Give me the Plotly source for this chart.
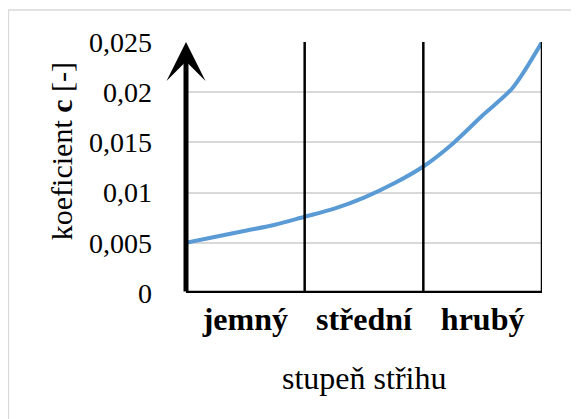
import plotly.graph_objects as go

# Data
x_pos = [0, 0.25, 0.5, 0.75, 1.0, 1.25, 1.5, 1.75, 2.0, 2.25, 2.5, 2.75, 3.0]
c_values = [0.0050, 0.0056, 0.0062, 0.0068, 0.0076, 0.0084, 0.0095, 0.0109,
            0.0126, 0.0149, 0.0177, 0.0204, 0.0250]
categories = ["jemný", "střední", "hrubý"]
category_centers = [0.5, 1.5, 2.5]
category_bounds = [1, 2, 3]
y_ticks = [0, 0.005, 0.01, 0.015, 0.02, 0.025]
y_ticklabels = ["0", "0,005", "0,01", "0,015", "0,02", "0,025"]

FONT = "Liberation Serif"
OFF = 8  # page body margin compensation

fig = go.Figure()
fig.add_trace(go.Scatter(
    x=x_pos, y=c_values, mode="lines",
    line=dict(color="#5B9BD5", width=4, shape="spline", smoothing=0.8),
    showlegend=False, hoverinfo="skip",
))

shapes = []
for b in category_bounds:
    shapes.append(dict(type="line", xref="x", yref="y", x0=b, x1=b, y0=0, y1=y_ticks[-1],
                       line=dict(color="black", width=2.5), layer="above"))
# bottom axis line
shapes.append(dict(type="line", xref="x", yref="y", x0=0, x1=3, y0=0, y1=0,
                   line=dict(color="black", width=4.5), layer="above"))
# outer light-gray frame
shapes.append(dict(type="rect", xref="paper", yref="paper", x0=-0.499, x1=2, y0=-2, y1=1.1275,
                   line=dict(color="#d9d9d9", width=1.5), fillcolor="rgba(0,0,0,0)", layer="below"))

annotations = [
    # y axis arrow
    dict(x=0, y=y_ticks[-1], xref="x", yref="y", ax=0, ay=0, axref="x", ayref="y",
         showarrow=True, arrowhead=3, arrowsize=1.3, arrowwidth=5, arrowcolor="black",
         text=""),
    # y title
    dict(text="koeficient <b>c</b> [-]", xref="paper", yref="paper",
         x=-0.351, y=0.565, textangle=-90, showarrow=False,
         font=dict(family=FONT, size=30, color="black"), xanchor="center", yanchor="middle"),
    # x title
    dict(text="stupeň střihu", xref="paper", yref="paper",
         x=0.5, y=-0.34, showarrow=False,
         font=dict(family=FONT, size=32, color="black"), xanchor="center", yanchor="middle"),
]

fig.update_layout(
    width=579, height=419,
    margin=dict(l=186 - OFF, r=37 + OFF, t=42 - OFF, b=126 + OFF),
    paper_bgcolor="white", plot_bgcolor="white",
    shapes=shapes, annotations=annotations,
    font=dict(family=FONT, color="black"),
)
fig.update_xaxes(
    range=[0, 3], tickvals=category_centers,
    ticktext=["<b>%s</b>" % c for c in categories],
    tickfont=dict(family=FONT, size=32, color="black"),
    showgrid=False, zeroline=False, showline=False,
    ticks="", ticklabelstandoff=4,
)
fig.update_yaxes(
    range=[0, y_ticks[-1]], tickvals=y_ticks, ticktext=y_ticklabels,
    tickfont=dict(family=FONT, size=28, color="black"),
    showgrid=True, gridcolor="#d9d9d9", gridwidth=1.5,
    zeroline=False, showline=False, ticks="", ticklabelstandoff=33,
)

fig.write_html("out.html")
